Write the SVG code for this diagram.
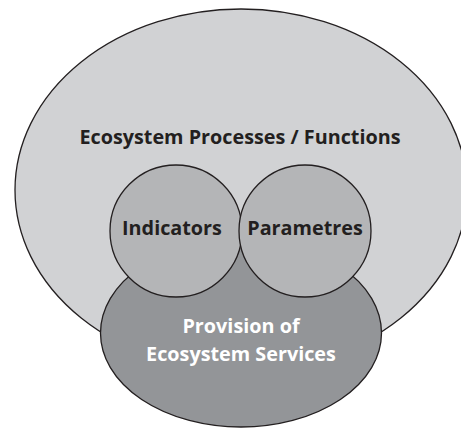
<svg xmlns="http://www.w3.org/2000/svg" width="461" height="428" viewBox="0 0 461 428">
<style>
.shape{stroke:#231f20;stroke-width:1.3}
.lbl{font-family:"Open Sans","Noto Sans","Liberation Sans",sans-serif;font-weight:bold;font-size:19.8px;text-anchor:middle}
.dark{fill:#231f20}
.white{fill:#ffffff}
</style>
<rect width="461" height="428" fill="#ffffff"/>
<g id="processes">
<ellipse class="shape" cx="241" cy="190" rx="226" ry="181" fill="#d1d2d4"/>
<text class="lbl dark" x="240" y="143.5">Ecosystem Processes / Functions</text>
</g>
<g id="provision">
<ellipse class="shape" cx="241" cy="333" rx="140.5" ry="94" fill="#939598"/>
<text class="lbl white" x="241" y="333">Provision of</text>
<text class="lbl white" x="241" y="360.5">Ecosystem Services</text>
</g>
<g id="indicators">
<circle class="shape" cx="176" cy="231" r="66" fill="#b4b5b7"/>
<text class="lbl dark" x="172" y="235">Indicators</text>
</g>
<g id="parametres">
<circle class="shape" cx="305" cy="231" r="66" fill="#b4b5b7"/>
<text class="lbl dark" x="305" y="235">Parametres</text>
</g>
<g id="connectors"></g>
</svg>
